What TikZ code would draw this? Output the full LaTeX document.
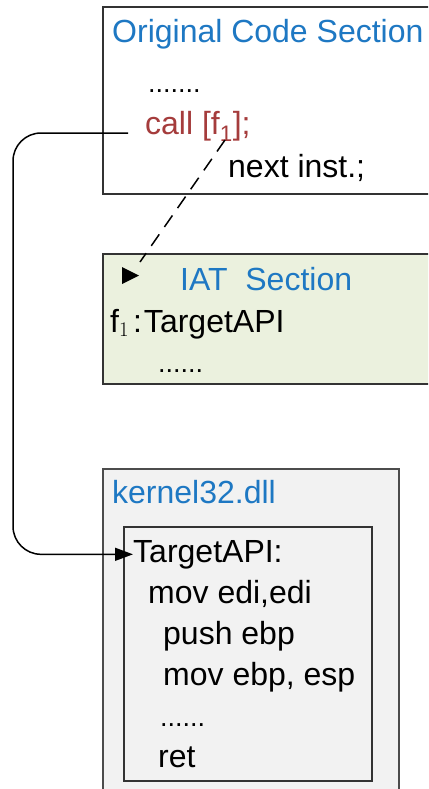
\documentclass[tikz,border=0pt]{standalone}
\usepackage{fontspec}
\setmainfont{Liberation Sans}
\usetikzlibrary{arrows.meta}
\definecolor{ttlblue}{RGB}{30,120,195}
\definecolor{callred}{RGB}{165,60,60}
\definecolor{iatgreen}{RGB}{235,241,222}
\definecolor{dllgray}{RGB}{242,242,242}
\begin{document}
\begin{tikzpicture}[x=1pt,y=-1pt,
    secbox/.style={draw=black!80,line width=1.5pt},
    txt/.style={anchor=base west,inner sep=0pt,font=\fontsize{32}{38}\selectfont},
    ttl/.style={txt,text=ttlblue},
    dots/.style={txt,font=\fontsize{27}{32}\selectfont}]
	\clip (0,0) rectangle (428,789);
	\fill[white] (0,0) rectangle (428,789);
	% Original Code Section
	\draw[secbox,fill=white] (103,7) rectangle (440,194);
	\node[ttl] (sec1) at (112,43) {Original Code Section};
	\node[dots] (dot1) at (148,93) {.......};
	\node[txt,text=callred] (call) at (145,135) {call [f\textsubscript{1}];};
	\node[txt] (next) at (228,177) {next inst.;};
	% IAT Section
	\draw[secbox,fill=iatgreen] (103,254) rectangle (440,384);
	\node[ttl] (sec2) at (180,290) {IAT~~Section};
	\node[txt] (f1) at (110,332) {f$_1$\kern4pt:\kern2pt TargetAPI};
	\node[dots] (dot2) at (158,372) {......};
	% kernel32.dll
	\draw[secbox,draw=black!70,fill=dllgray] (103,469) rectangle (399,800);
	\node[ttl] (sec3) at (112,503) {kernel32.dll};
	\draw[secbox,fill=dllgray] (124,527) rectangle (372,781);
	\node[txt] (tapi) at (133,562) {TargetAPI:};
	\node[txt] (ins1) at (148,603) {mov edi,edi};
	\node[txt] (ins2) at (163,644) {push ebp};
	\node[txt] (ins3) at (163,685) {mov ebp, esp};
	\node[dots] (dot3) at (160,726) {......};
	\node[txt] (ins4) at (158,767) {ret};
	% connectors
	\coordinate (callL) at (128,133);
	\coordinate (f1tip) at (225,140);
	\coordinate (iatL) at (140,262);
	\draw[line width=1.5pt,rounded corners=28pt,-{Triangle[length=18pt,width=13pt]}]
		(callL) -- (13,133) |- (tapi.west);
	\draw[line width=1.5pt,dash pattern=on 14pt off 9pt] (f1tip) -- (iatL);
	\fill (122,267) -- (139,275.5) -- (122,284) -- cycle;
\end{tikzpicture}
\end{document}
